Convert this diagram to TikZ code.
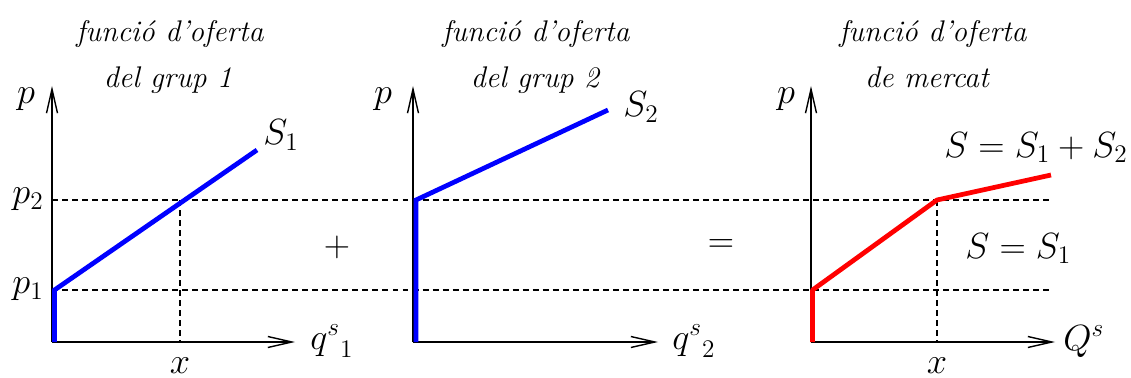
\documentclass[tikz,border=0pt]{standalone}
\usepackage{tikz}
\usetikzlibrary{arrows.meta, positioning}
\definecolor{supblue}{RGB}{0,0,255}
\definecolor{supred}{RGB}{255,0,0}
\tikzset{
  axis/.style={line width=0.8pt, -{Straight Barb[length=0.48cm, width=0.22cm]}},
  guide/.style={dash pattern=on 3.4pt off 2.3pt, line width=0.6pt},
  supply/.style={line width=2.7pt, color=supblue},
  market/.style={line width=2.7pt, color=supred},
  title/.style={font=\fontsize{17}{20}\selectfont\itshape, inner sep=0pt},
  lbl/.style={font=\fontsize{20.5}{25}\selectfont, inner sep=0pt}
}

\begin{document}
\begin{tikzpicture}[x=0.02cm, y=-0.02cm]
  \useasboundingbox (0,0) rectangle (1131,378);

  % price levels (dashed, across all three panels)
  \coordinate (p1a) at (52,290);  \coordinate (p1b) at (1052,290);
  \coordinate (p2a) at (52,200);  \coordinate (p2b) at (1052,200);
  \draw[guide] (p1a) -- (p1b);
  \draw[guide] (p2a) -- (p2b);

  % Panel 1: group 1
  \coordinate (o1) at (52,342);
  \coordinate (ytop1) at (52,86);
  \coordinate (xend1) at (295,342);
  \coordinate (xa1) at (180,200);
  \coordinate (xb1) at (180,342);
  \draw[guide] (xa1) -- (xb1);
  \draw[axis] (o1) -- (ytop1);
  \draw[axis] (o1) -- (xend1);
  \coordinate (s1a) at (54.5,342);
  \coordinate (s1b) at (54.5,290);
  \coordinate (s1c) at (257,150);
  \draw[supply] (s1a) -- (s1b) -- (s1c);

  \node[title, anchor=base] (t1a) at (170,42) {funció d'oferta};
  \node[title, anchor=base] (t1b) at (168,88) {del grup 1};
  \node[lbl, anchor=base] (py1) at (26,104) {$p$};
  \node[lbl, anchor=mid east] (lp2) at (44,200) {$p_2$};
  \node[lbl, anchor=mid east] (lp1) at (44,290) {$p_1$};
  \node[lbl, anchor=base west] (lq1) at (310,349) {${q^s}_1$};
  \node[lbl, anchor=base] (lx1) at (180,373) {$x$};
  \node[lbl, anchor=base west] (lS1) at (263,145) {$S_1$};

  \node[lbl] (plus) at (337,247) {$+$};

  % Panel 2: group 2
  \coordinate (o2) at (413,342);
  \coordinate (ytop2) at (413,86);
  \coordinate (xend2) at (658,342);
  \draw[axis] (o2) -- (ytop2);
  \draw[axis] (o2) -- (xend2);
  \coordinate (s2a) at (416,342);
  \coordinate (s2b) at (416,200);
  \coordinate (s2c) at (608,110);
  \draw[supply] (s2a) -- (s2b) -- (s2c);

  \node[title, anchor=base] (t2a) at (536,42) {funció d'oferta};
  \node[title, anchor=base] (t2b) at (535,88) {del grup 2};
  \node[lbl, anchor=base] (py2) at (383,104) {$p$};
  \node[lbl, anchor=base west] (lq2) at (672,349) {${q^s}_2$};
  \node[lbl, anchor=base west] (lS2) at (623,117) {$S_2$};

  \node[lbl] (equal) at (721,246) {$=$};

  % Panel 3: market
  \coordinate (o3) at (811,342);
  \coordinate (ytop3) at (811,86);
  \coordinate (xend3) at (1055,342);
  \coordinate (xa3) at (937,200);
  \coordinate (xb3) at (937,342);
  \draw[guide] (xa3) -- (xb3);
  \draw[axis] (o3) -- (ytop3);
  \draw[axis] (o3) -- (xend3);
  \coordinate (ma) at (812.5,342);
  \coordinate (mb) at (812.5,290);
  \coordinate (mc) at (937,200);
  \coordinate (md) at (1051,175);
  \draw[market, line join=round] (ma) -- (mb) -- (mc) -- (md);

  \node[title, anchor=base] (t3a) at (933,42) {funció d'oferta};
  \node[title, anchor=base] (t3b) at (927,88) {de mercat};
  \node[lbl, anchor=base] (py3) at (786,104) {$p$};
  \node[lbl, anchor=base west] (lQ) at (1063,350) {$Q^s$};
  \node[lbl, anchor=base] (lx3) at (937,373) {$x$};
  \node[lbl, anchor=base east] (lSsum) at (1128,157) {$S = S_1 + S_2$};
  \node[lbl, anchor=base west] (lSone) at (965,258) {$S = S_1$};
\end{tikzpicture}
\end{document}
